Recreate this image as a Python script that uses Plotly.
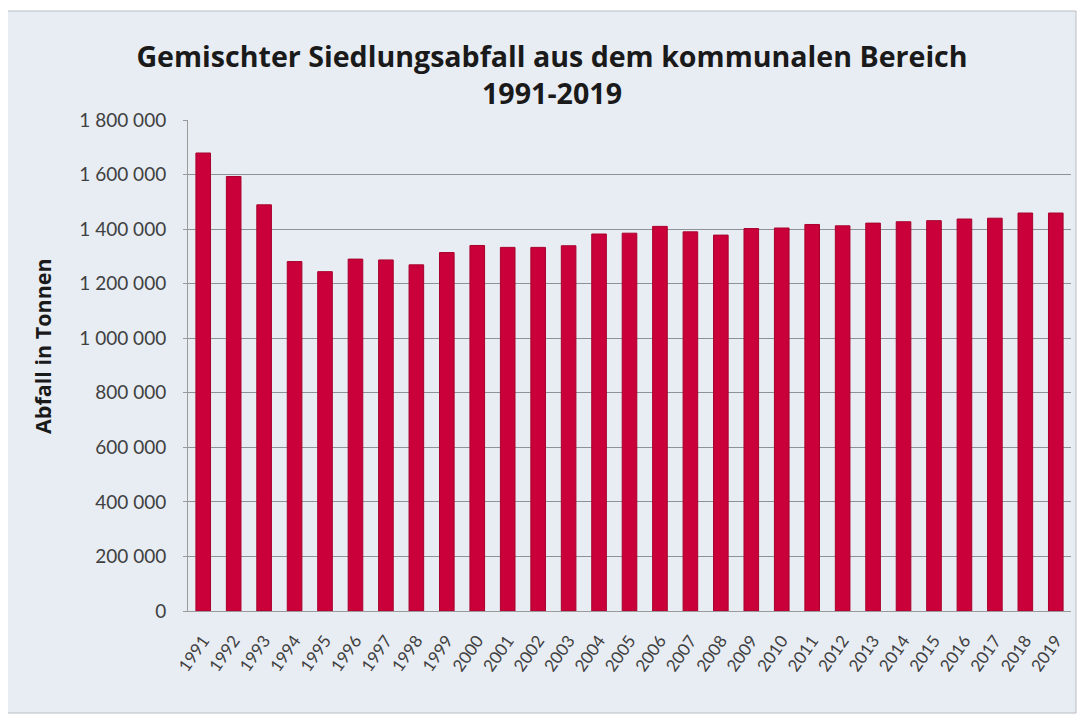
import plotly.graph_objects as go

years = [str(y) for y in range(1991, 2020)]
values = [1679000, 1593000, 1489000, 1281000, 1244000, 1290000, 1287000, 1269000,
          1314000, 1340000, 1333000, 1333000, 1339000, 1382000, 1385000, 1410000,
          1390000, 1378000, 1402000, 1404000, 1417000, 1412000, 1422000, 1427000,
          1431000, 1437000, 1440000, 1459000, 1459000]
y_ticks = [0, 200000, 400000, 600000, 800000, 1000000, 1200000, 1400000, 1600000, 1800000]

# page body has an 8px margin; the figure is placed at (8, 8)
OFF = 8
W, H = 1085 - OFF, 715 - OFF
# plot area in page coordinates: x 188..1071, y 120..611
L, T = 188 - OFF, 120 - OFF
R, B = (1085 - 1071), (715 - 611)
pw, ph = W - L - R, H - T - B

def px(x_page):
    return (x_page - OFF - L) / pw

def py(y_page):
    return (H - B - (y_page - OFF)) / ph

fig = go.Figure()
fig.add_trace(go.Bar(
    x=years, y=values,
    marker=dict(color="#c9003a", line=dict(color="#a8002c", width=1)),
))

fig.add_shape(type="rect", xref="paper", yref="paper",
              x0=px(6), x1=px(1076), y0=py(713), y1=py(11),
              fillcolor="#e8edf4", line=dict(color="#b8bcc2", width=1),
              layer="below")

fig.add_annotation(text="<b>Abfall in Tonnen</b>", textangle=-90,
                   xref="paper", yref="paper", x=px(42), y=py(346),
                   xanchor="center", yanchor="middle", showarrow=False,
                   font=dict(size=21.5, color="#1a1a1a", family="Open Sans, sans-serif"))

fig.update_layout(
    width=W, height=H,
    margin=dict(l=L, r=R, t=T, b=B, autoexpand=False),
    paper_bgcolor="white",
    plot_bgcolor="rgba(0,0,0,0)",
    separators=", ",
    showlegend=False,
    bargap=0.52,
    font=dict(family="Lato, 'Open Sans', sans-serif", color="#404040"),
    title=dict(
        text="<b>Gemischter Siedlungsabfall aus dem kommunalen Bereich<br>1991-2019</b>",
        x=(552 - OFF) / W, xanchor="center", y=1 - (67 - OFF) / H, yanchor="middle",
        font=dict(size=28.6, color="#1a1a1a", family="Open Sans, sans-serif"),
    ),
    xaxis=dict(
        type="category",
        tickangle=-55,
        tickfont=dict(size=17, color="#404040"),
        showline=True, linecolor="#9a9a9a", linewidth=1,
        showgrid=False, ticks="",
        ticklabelstandoff=12,
    ),
    yaxis=dict(
        range=[0, 1800000],
        tickvals=y_ticks,
        tickformat=",d",
        tickfont=dict(size=19, color="#404040"),
        showline=True, linecolor="#9a9a9a", linewidth=1,
        showgrid=True, gridcolor="#8e9196", gridwidth=1,
        ticks="outside", ticklen=4, tickcolor="#9a9a9a",
        ticklabelstandoff=13,
        zeroline=False,
    ),
)

fig.write_html("out.html")
